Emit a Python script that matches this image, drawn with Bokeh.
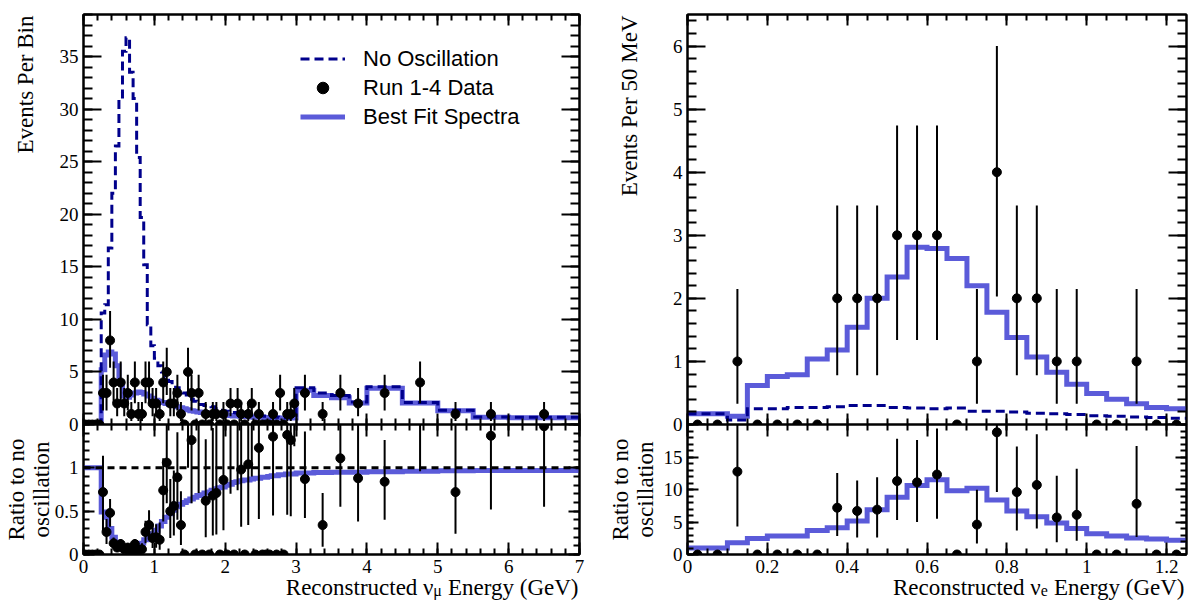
import numpy as np
from bokeh.plotting import figure
from bokeh.models import (Range1d, LinearAxis, SingleIntervalTicker, Legend,
                          LegendItem, Span)
from bokeh.layouts import row, column
from bokeh.embed import file_html
from bokeh.resources import INLINE
from bokeh.core.properties import value

# ---------------------------------------------------------------- data
# nu_mu sample: 0.05 GeV bins up to 3 GeV, then wider bins
numu_edges = [round(0.05 * i, 2) for i in range(61)] + [3.25, 3.5, 3.75, 4.0, 4.5, 5.0, 5.5, 6.0, 7.0]

numu_noosc = [0.1, 0.1, 0.1, 0.1, 0.1,
              10.6, 11.4, 16.8, 22.0, 26.5, 31.0, 35.5, 36.8, 33.5, 31.0,
              25.4, 19.7, 15.2, 9.5, 7.5, 6.3, 5.6, 5.0, 4.5, 4.1,
              3.8, 3.5, 3.3, 3.0, 2.8, 2.4, 2.2, 2.1, 1.9, 1.8,
              1.75, 1.7, 1.5, 1.35, 1.3, 1.25, 1.2, 1.15, 1.1, 1.05,
              1.0, 0.95, 0.9, 0.87, 0.84, 0.81, 0.78, 0.75, 0.72, 0.70,
              0.68, 0.66, 0.64, 0.63, 0.62,
              3.5, 3.0, 2.75, 2.15, 3.6, 2.1, 1.35, 0.71, 0.68]

numu_bestfit = [0.1, 0.1, 0.1, 0.1, 0.1,
                5.2, 6.6, 6.9, 6.7, 5.6, 4.0, 2.7, 2.6, 2.8, 3.0,
                3.1, 3.05, 2.9, 2.7, 2.5, 2.3, 2.2, 2.1, 2.0, 1.9,
                1.8, 1.7, 1.6, 1.5, 1.4, 1.3, 1.25, 1.2, 1.15, 1.1,
                1.05, 1.0, 0.97, 0.94, 0.91, 0.88, 0.85, 0.82, 0.80, 0.78,
                0.76, 0.74, 0.72, 0.70, 0.69, 0.68, 0.67, 0.66, 0.65, 0.64,
                0.63, 0.62, 0.62, 0.61, 0.61,
                3.25, 2.75, 2.55, 2.05, 3.45, 2.05, 1.3, 0.68, 0.64]

numu_ratio_fit = [1.0, 1.0, 1.0, 1.0, 1.0,
                  0.49, 0.43, 0.30, 0.20, 0.14, 0.09, 0.06, 0.05, 0.06, 0.08,
                  0.10, 0.13, 0.17, 0.20, 0.24, 0.28, 0.33, 0.38, 0.43, 0.47,
                  0.51, 0.55, 0.58, 0.60, 0.62, 0.64, 0.66, 0.68, 0.69, 0.71,
                  0.72, 0.74, 0.76, 0.77, 0.78, 0.80, 0.81, 0.83, 0.84, 0.85,
                  0.86, 0.86, 0.87, 0.88, 0.88, 0.89, 0.89, 0.90, 0.91, 0.91,
                  0.92, 0.92, 0.93, 0.93, 0.93,
                  0.94, 0.945, 0.95, 0.95, 0.955, 0.96, 0.965, 0.97, 0.97]

numu_data = [0, 0, 0, 0, 0, 3, 3, 8, 4, 2, 4, 2, 3, 1, 4,
             1, 1, 4, 4, 2, 2, 1, 4, 5, 2, 2, 3, 1, 0, 5,
             3, 0, 3, 0, 1, 0, 1, 1, 0, 1, 0, 2, 0, 2, 1,
             0, 1, 2, 0, 1, 0, 0, 0, 1, 0, 3, 0, 1, 1, 2,
             3, 1, 3, 2, 3, 4, 1, 1, 1]

numu_ratio = [0, 0, 0, 0, 0, 0.72, 0.26, 0.48, 0.13, 0.08, 0.12, 0.06, 0.08, 0.03, 0.12,
              0.05, 0.06, 0.26, 0.34, 0.19, 0.20, 0.17, 0.74, 1.06, 0.50, 0.56, 0.89, 0.34, 0, 1.8,
              1.32, 0, 1.6, 0, 0.62, 0, 0.68, 0.71, 0, 0.86, 0, 1.8, 0, 1.9, 0.98,
              0, 1.04, 2.3, 0, 1.23, 0, 0, 0, 1.36, 0, 4.4, 0, 1.38, 1.32, 3.2,
              0.87, 0.34, 1.11, 0.88, 0.84, 1.9, 0.72, 1.37, 1.48]
numu_ratio_lo = [0, 0, 0, 0, 0, 0.27, 0.12, 0.32, 0.066, 0.03, 0.06, 0.023, 0.036, 0.01, 0.06,
                 0.017, 0.02, 0.13, 0.17, 0.074, 0.078, 0.056, 0.38, 0.59, 0.19, 0.22, 0.40, 0.11, 0, 1.0,
                 0.59, 0, 0.71, 0, 0.20, 0, 0.22, 0.23, 0, 0.28, 0, 0.70, 0, 0.74, 0.32,
                 0, 0.34, 0.9, 0, 0.41, 0, 0, 0, 0.45, 0, 2.0, 0, 0.46, 0.44, 1.25,
                 0.42, 0.09, 0.55, 0.38, 0.40, 0.96, 0.24, 0.52, 0.55]
numu_ratio_hi = [0, 0, 0, 0, 0, 1.14, 0.41, 0.64, 0.195, 0.14, 0.18, 0.104, 0.126, 0.065, 0.18,
                 0.108, 0.13, 0.39, 0.51, 0.33, 0.35, 0.37, 1.11, 1.53, 0.87, 0.97, 1.41, 0.73, 0, 2.6,
                 2.08, 0, 2.53, 0, 1.33, 0, 1.46, 1.53, 0, 1.85, 0, 3.1, 0, 3.3, 2.1,
                 0, 2.2, 4.0, 0, 2.6, 0, 0, 0, 2.9, 0, 6.9, 0, 3.0, 2.8, 5.5,
                 1.42, 0.71, 1.75, 1.6, 1.32, 2.85, 1.55, 2.9, 3.2]

# nu_e sample: 50 MeV bins
nue_edges = [round(0.05 * i, 2) for i in range(26)]
nue_noosc = [0.17, 0.17, 0.07, 0.25, 0.25, 0.27, 0.27, 0.28, 0.30, 0.30,
             0.27, 0.26, 0.25, 0.26, 0.21, 0.21, 0.20, 0.18, 0.17, 0.16,
             0.14, 0.13, 0.12, 0.11, 0.10]
nue_bestfit = [0.17, 0.17, 0.13, 0.62, 0.76, 0.79, 1.04, 1.18, 1.54, 2.0,
               2.34, 2.81, 2.79, 2.63, 2.2, 1.78, 1.38, 1.07, 0.83, 0.64,
               0.49, 0.40, 0.33, 0.27, 0.25]
nue_ratio_fit = [1.0, 1.0, 1.8, 2.45, 2.85, 2.85, 3.7, 4.1, 5.15, 6.9,
                 8.8, 10.6, 11.5, 9.8, 10.2, 8.4, 6.7, 5.8, 4.85, 4.0,
                 3.2, 2.85, 2.55, 2.4, 2.2]
nue_data = [0, 0, 1, 0, 0, 0, 0, 2, 2, 2, 3, 3, 3, 0, 1, 4, 2, 2, 1, 1, 0, 0, 1, 0, 0]
nue_ratio = [0, 0, 12.75, 0, 0, 0, 0, 7.2, 6.7, 6.9, 11.3, 11.1, 12.3, 0, 4.6,
             18.8, 9.6, 10.7, 5.7, 6.1, 0, 0, 7.8, 0, 0]
nue_ratio_lo = [0, 0, 4.3, 0, 0, 0, 0, 2.86, 2.6, 2.6, 5.3, 5.0, 5.5, 0, 1.7,
                9.6, 3.7, 4.0, 1.9, 2.1, 0, 0, 2.7, 0, 0]
nue_ratio_hi = [0, 0, 27.4, 0, 0, 0, 0, 12.55, 11.4, 11.9, 17.8, 17.6, 19.4, 0, 9.95,
                28.0, 16.6, 18.5, 12.1, 13.2, 0, 0, 16.7, 0, 0]

# error bars on event counts (by count)
count_err_lo = [0.0, 0.67, 1.22, 1.66, 1.97, 2.2, 2.4, 2.5, 2.6]
count_err_hi = [0.0, 1.15, 1.47, 1.74, 2.0, 2.3, 2.5, 2.7, 2.8]

# texts
legend_labels = ["No Oscillation", "Run 1-4 Data", "Best Fit Spectra"]
ytitle_left = "Events Per Bin"
ytitle_right = "Events Per 50 MeV"
ratio_title = ["Ratio to no", "oscillation"]

# ---------------------------------------------------------------- style
SERIF = "Liberation Serif"
SANS = "Liberation Sans"
SOLID = "#5b5bd9"
DASH = "#00008c"
W_LEFT, W_RIGHT, H_ALL = 600, 592, 604
TXT_SHIFT = 10   # renderer draws 'alphabetic' text ~10 px low; compensate
TITLE_FS = 23


def make_fig(w, h, xr, yr, bl, br, bt, bb):
    p = figure(width=w, height=h, x_range=Range1d(*xr), y_range=Range1d(*yr),
               output_backend="svg", toolbar_location=None,
               min_border_left=bl, min_border_right=br,
               min_border_top=bt, min_border_bottom=bb)
    p.grid.visible = False
    p.outline_line_color = "black"
    p.outline_line_width = 2
    p.outline_line_alpha = 1
    p.background_fill_color = "white"
    return p


def style_axis(ax, interval, nminor, major_len, minor_len, show_labels, overrides=None):
    ax.ticker = SingleIntervalTicker(interval=interval, num_minor_ticks=nminor)
    ax.axis_line_color = "black"
    ax.axis_line_width = 2
    ax.major_tick_in = major_len
    ax.major_tick_out = 0
    ax.minor_tick_in = minor_len
    ax.minor_tick_out = 0
    ax.major_tick_line_width = 2
    ax.minor_tick_line_width = 2
    ax.major_tick_line_color = "black"
    ax.minor_tick_line_color = "black"
    if show_labels:
        ax.major_label_text_font = SERIF
        ax.major_label_text_font_size = "19px"
        ax.major_label_text_color = "black"
        ax.major_label_standoff = 5
        if overrides:
            ax.major_label_overrides = overrides
    else:
        ax.major_label_text_font_size = "0px"
        ax.major_label_text_alpha = 0
        ax.major_label_standoff = 0


def all_axes(p, xint, xminor, yint, yminor, xlen, ylen, xlabels, ylabels, xov=None, yov=None):
    style_axis(p.xaxis[0], xint, xminor, xlen[0], xlen[1], xlabels, xov)
    style_axis(p.yaxis[0], yint, yminor, ylen[0], ylen[1], ylabels, yov)
    top = LinearAxis()
    style_axis(top, xint, xminor, xlen[0], xlen[1], False)
    p.add_layout(top, "above")
    right = LinearAxis()
    style_axis(right, yint, yminor, ylen[0], ylen[1], False)
    p.add_layout(right, "right")


def step_hist(p, edges, vals, **kw):
    return p.step(x=list(edges), y=list(vals) + [vals[-1]], mode="after",
                  line_join="miter", **kw)


def centers_of(edges):
    return [(a + b) / 2 for a, b in zip(edges[:-1], edges[1:])]


def count_points(p, edges, counts):
    c = centers_of(edges)
    xs = [x for x, n in zip(c, counts) if n > 0]
    lo = [n - count_err_lo[n] for n in counts if n > 0]
    hi = [n + count_err_hi[n] for n in counts if n > 0]
    p.segment(x0=xs, y0=lo, x1=xs, y1=hi, line_color="black", line_width=2)
    return p.scatter(x=c, y=counts, size=9, color="black")


def ratio_points(p, edges, counts, r, rlo, rhi):
    c = centers_of(edges)
    sel = [i for i, n in enumerate(counts) if n > 0]
    p.segment(x0=[c[i] for i in sel], y0=[rlo[i] for i in sel],
              x1=[c[i] for i in sel], y1=[rhi[i] for i in sel],
              line_color="black", line_width=2)
    p.scatter(x=c, y=r, size=9, color="black")


def overlay(width):
    """Transparent full-height canvas (1 unit = 1 px) that carries the axis titles."""
    o = figure(width=width, height=H_ALL, x_range=Range1d(0, width), y_range=Range1d(0, H_ALL),
               output_backend="svg", toolbar_location=None, min_border=0,
               x_axis_location=None, y_axis_location=None)
    if "frame_align" in o.properties():
        o.frame_align = False
    o.grid.visible = False
    o.outline_line_alpha = 0
    o.background_fill_alpha = 0
    o.border_fill_alpha = 0
    o.styles = {"margin-top": "-%dpx" % H_ALL}
    return o


def vtext(o, x_base, y_page, text, align):
    # vertical (bottom-to-top) title; x_base = page x of the text baseline
    o.text(x=[x_base - TXT_SHIFT], y=[H_ALL - y_page], text=[text], angle=np.pi / 2,
           text_align=align, text_baseline="alphabetic", text_font=value(SERIF),
           text_font_size=value("%dpx" % TITLE_FS), text_color="black")


def energy_title(o, x_end, sub):
    # ROOT-style right-aligned title "Reconstructed nu_sub Energy (GeV)"
    fs = TITLE_FS
    w_tail = 5.692 * fs        # width of "Energy (GeV)"
    w_space = 0.25 * fs
    w_sub = (0.52 if sub == "μ" else 0.444) * 16
    y_base = H_ALL - 597 + TXT_SHIFT
    kw = dict(text_baseline="alphabetic", text_font=value(SERIF), text_color="black",
              text_align="right")
    o.text(x=[x_end], y=[y_base], text=["Energy (GeV)"],
           text_font_size=value("%dpx" % fs), **kw)
    xs = x_end - w_tail - w_space
    o.text(x=[xs], y=[y_base - 3], text=[sub], text_font_size=value("16px"), **kw)
    o.text(x=[xs - w_sub], y=[y_base], text=["Reconstructed ν"],
           text_font_size=value("%dpx" % fs), **kw)


# ---------------------------------------------------------------- left: nu_mu
lt = make_fig(W_LEFT, 434, (0, 7), (0, 39), 83, 21, 14, 10)
all_axes(lt, 1, 5, 5, 5, (11, 6), (18, 9), False, True)
r_solid = step_hist(lt, numu_edges, numu_bestfit, line_color=SOLID, line_width=5)
r_dash = step_hist(lt, numu_edges, numu_noosc, line_color=DASH, line_width=3, line_dash="9 5")
r_dots = count_points(lt, numu_edges, numu_data)
legend = Legend(items=[LegendItem(label=legend_labels[0], renderers=[r_dash]),
                       LegendItem(label=legend_labels[1], renderers=[r_dots]),
                       LegendItem(label=legend_labels[2], renderers=[r_solid])],
                location=(217, 293), glyph_width=45, glyph_height=29, label_height=29,
                label_standoff=18, spacing=0, padding=0, margin=0,
                border_line_alpha=0, background_fill_alpha=0,
                label_text_font=SANS, label_text_font_size="22px", label_text_color="black")
lt.add_layout(legend)

lb = make_fig(W_LEFT, 180, (0, 7), (0, 1.5), 83, 21, 0, 50)
lb.border_fill_alpha = 0
lb.styles = {"margin-top": "-10px"}
all_axes(lb, 1, 5, 0.5, 5, (12, 6), (11, 6), True, True,
         yov={0: "0", 0.5: "0.5", 1: "1", 1.5: ""})
step_hist(lb, numu_edges, numu_ratio_fit, line_color=SOLID, line_width=5)
lb.add_layout(Span(location=1, dimension="width", line_color="black",
                   line_width=3, line_dash="7 5"))
ratio_points(lb, numu_edges, numu_data, numu_ratio, numu_ratio_lo, numu_ratio_hi)

ol = overlay(W_LEFT)
vtext(ol, 35, 15, ytitle_left, "right")
vtext(ol, 26, 489, ratio_title[0], "center")
vtext(ol, 51, 489, ratio_title[1], "center")
energy_title(ol, 578, "μ")

# ---------------------------------------------------------------- right: nu_e
rt = make_fig(W_RIGHT, 434, (0, 1.25), (0, 6.5), 87, 6, 14, 10)
all_axes(rt, 0.2, 4, 1, 5, (11, 6), (18, 9), False, True)
step_hist(rt, nue_edges, nue_bestfit, line_color=SOLID, line_width=5)
step_hist(rt, nue_edges, nue_noosc, line_color=DASH, line_width=3, line_dash="9 5")
count_points(rt, nue_edges, nue_data)

rb = make_fig(W_RIGHT, 180, (0, 1.25), (0, 20), 87, 6, 0, 50)
rb.border_fill_alpha = 0
rb.styles = {"margin-top": "-10px"}
all_axes(rb, 0.2, 4, 5, 5, (12, 6), (11, 6), True, True,
         xov={0: "0", 1: "1"}, yov={20: ""})
step_hist(rb, nue_edges, nue_ratio_fit, line_color=SOLID, line_width=5)
ratio_points(rb, nue_edges, nue_data, nue_ratio, nue_ratio_lo, nue_ratio_hi)

orr = overlay(W_RIGHT)
vtext(orr, 39, 15, ytitle_right, "right")
vtext(orr, 30, 489, ratio_title[0], "center")
vtext(orr, 55, 489, ratio_title[1], "center")
energy_title(orr, 584, "e")

layout = row(column(lt, lb, ol), column(rt, rb, orr))
open("out.html", "w").write(file_html(layout, INLINE))
